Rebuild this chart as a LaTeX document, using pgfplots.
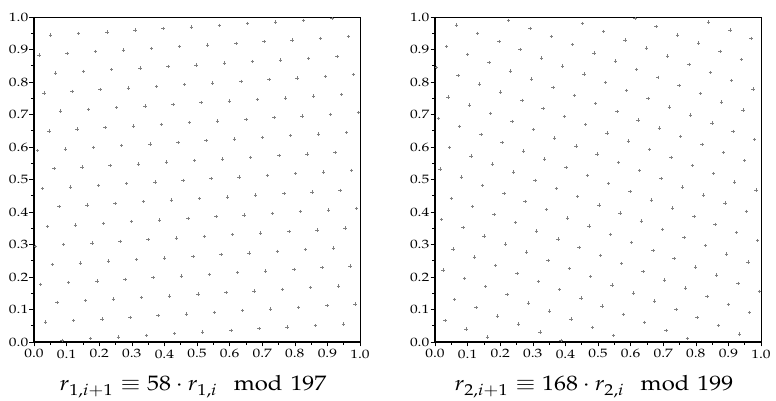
\documentclass[border=0pt]{standalone}
\usepackage{amsmath}
\usepackage{mathpazo}
\usepackage{graphicx}
\usepackage{pgfplots}
\usepackage{pgfplotstable}
\pgfplotsset{compat=1.18}
% k and 58k mod 197
\pgfplotstableread[row sep=\\]{
k y\\
1 58\\ 2 116\\ 3 174\\ 4 35\\ 5 93\\ 6 151\\ 7 12\\ 8 70\\ 9 128\\ 10 186\\ 11 47\\ 12 105\\ 13 163\\ 14 24\\ 15 82\\ 16 140\\
17 1\\ 18 59\\ 19 117\\ 20 175\\ 21 36\\ 22 94\\ 23 152\\ 24 13\\ 25 71\\ 26 129\\ 27 187\\ 28 48\\ 29 106\\ 30 164\\ 31 25\\ 32 83\\ 33 141\\
34 2\\ 35 60\\ 36 118\\ 37 176\\ 38 37\\ 39 95\\ 40 153\\ 41 14\\ 42 72\\ 43 130\\ 44 188\\ 45 49\\ 46 107\\ 47 165\\ 48 26\\ 49 84\\ 50 142\\
51 3\\ 52 61\\ 53 119\\ 54 177\\ 55 38\\ 56 96\\ 57 154\\ 58 15\\ 59 73\\ 60 131\\ 61 189\\ 62 50\\ 63 108\\ 64 166\\ 65 27\\ 66 85\\ 67 143\\
68 4\\ 69 62\\ 70 120\\ 71 178\\ 72 39\\ 73 97\\ 74 155\\ 75 16\\ 76 74\\ 77 132\\ 78 190\\ 79 51\\ 80 109\\ 81 167\\ 82 28\\ 83 86\\ 84 144\\
85 5\\ 86 63\\ 87 121\\ 88 179\\ 89 40\\ 90 98\\ 91 156\\ 92 17\\ 93 75\\ 94 133\\ 95 191\\ 96 52\\ 97 110\\ 98 168\\ 99 29\\ 100 87\\ 101 145\\
102 6\\ 103 64\\ 104 122\\ 105 180\\ 106 41\\ 107 99\\ 108 157\\ 109 18\\ 110 76\\ 111 134\\ 112 192\\ 113 53\\ 114 111\\ 115 169\\ 116 30\\ 117 88\\ 118 146\\
119 7\\ 120 65\\ 121 123\\ 122 181\\ 123 42\\ 124 100\\ 125 158\\ 126 19\\ 127 77\\ 128 135\\ 129 193\\ 130 54\\ 131 112\\ 132 170\\ 133 31\\ 134 89\\ 135 147\\
136 8\\ 137 66\\ 138 124\\ 139 182\\ 140 43\\ 141 101\\ 142 159\\ 143 20\\ 144 78\\ 145 136\\ 146 194\\ 147 55\\ 148 113\\ 149 171\\ 150 32\\ 151 90\\ 152 148\\
153 9\\ 154 67\\ 155 125\\ 156 183\\ 157 44\\ 158 102\\ 159 160\\ 160 21\\ 161 79\\ 162 137\\ 163 195\\ 164 56\\ 165 114\\ 166 172\\ 167 33\\ 168 91\\ 169 149\\
170 10\\ 171 68\\ 172 126\\ 173 184\\ 174 45\\ 175 103\\ 176 161\\ 177 22\\ 178 80\\ 179 138\\ 180 196\\ 181 57\\ 182 115\\ 183 173\\ 184 34\\ 185 92\\ 186 150\\
187 11\\ 188 69\\ 189 127\\ 190 185\\ 191 46\\ 192 104\\ 193 162\\ 194 23\\ 195 81\\ 196 139\\
}\dataA
% k and 168k mod 199
\pgfplotstableread[row sep=\\]{
k y\\
1 168\\ 2 137\\ 3 106\\ 4 75\\ 5 44\\ 6 13\\ 7 181\\ 8 150\\ 9 119\\ 10 88\\ 11 57\\ 12 26\\ 13 194\\ 14 163\\ 15 132\\ 16 101\\ 17 70\\ 18 39\\ 19 8\\ 20 176\\
21 145\\ 22 114\\ 23 83\\ 24 52\\ 25 21\\ 26 189\\ 27 158\\ 28 127\\ 29 96\\ 30 65\\ 31 34\\ 32 3\\ 33 171\\ 34 140\\ 35 109\\ 36 78\\ 37 47\\ 38 16\\ 39 184\\ 40 153\\
41 122\\ 42 91\\ 43 60\\ 44 29\\ 45 197\\ 46 166\\ 47 135\\ 48 104\\ 49 73\\ 50 42\\ 51 11\\ 52 179\\ 53 148\\ 54 117\\ 55 86\\ 56 55\\ 57 24\\ 58 192\\ 59 161\\ 60 130\\
61 99\\ 62 68\\ 63 37\\ 64 6\\ 65 174\\ 66 143\\ 67 112\\ 68 81\\ 69 50\\ 70 19\\ 71 187\\ 72 156\\ 73 125\\ 74 94\\ 75 63\\ 76 32\\ 77 1\\ 78 169\\ 79 138\\ 80 107\\
81 76\\ 82 45\\ 83 14\\ 84 182\\ 85 151\\ 86 120\\ 87 89\\ 88 58\\ 89 27\\ 90 195\\ 91 164\\ 92 133\\ 93 102\\ 94 71\\ 95 40\\ 96 9\\ 97 177\\ 98 146\\ 99 115\\ 100 84\\
101 53\\ 102 22\\ 103 190\\ 104 159\\ 105 128\\ 106 97\\ 107 66\\ 108 35\\ 109 4\\ 110 172\\ 111 141\\ 112 110\\ 113 79\\ 114 48\\ 115 17\\ 116 185\\ 117 154\\ 118 123\\ 119 92\\ 120 61\\
121 30\\ 122 198\\ 123 167\\ 124 136\\ 125 105\\ 126 74\\ 127 43\\ 128 12\\ 129 180\\ 130 149\\ 131 118\\ 132 87\\ 133 56\\ 134 25\\ 135 193\\ 136 162\\ 137 131\\ 138 100\\ 139 69\\ 140 38\\
141 7\\ 142 175\\ 143 144\\ 144 113\\ 145 82\\ 146 51\\ 147 20\\ 148 188\\ 149 157\\ 150 126\\ 151 95\\ 152 64\\ 153 33\\ 154 2\\ 155 170\\ 156 139\\ 157 108\\ 158 77\\ 159 46\\ 160 15\\
161 183\\ 162 152\\ 163 121\\ 164 90\\ 165 59\\ 166 28\\ 167 196\\ 168 165\\ 169 134\\ 170 103\\ 171 72\\ 172 41\\ 173 10\\ 174 178\\ 175 147\\ 176 116\\ 177 85\\ 178 54\\ 179 23\\ 180 191\\
181 160\\ 182 129\\ 183 98\\ 184 67\\ 185 36\\ 186 5\\ 187 173\\ 188 142\\ 189 111\\ 190 80\\ 191 49\\ 192 18\\ 193 186\\ 194 155\\ 195 124\\ 196 93\\ 197 62\\ 198 31\\
}\dataB
\pgfplotsset{
  lcg/.style={
    scale only axis, width=326bp, height=325bp,
    xmin=0, xmax=1, ymin=0, ymax=1,
    xtick={0,0.1,...,1.0}, ytick={0,0.1,...,1.0},
    minor x tick num=1, minor y tick num=1,
    xtick pos=left, ytick pos=left,
    tick align=outside,
    major tick length=4.5bp, minor tick length=3bp,
    every tick/.style={black, line width=0.6pt},
    axis line style={line width=0.7pt},
    xticklabel={\scalebox{1.55}[1.22]{$\pgfmathprintnumber[fixed,fixed zerofill,precision=1]{\tick}$}},
    yticklabel={\scalebox{1.55}[1.22]{$\pgfmathprintnumber[fixed,fixed zerofill,precision=1]{\tick}$}},
    xticklabel style={inner sep=1bp, yshift=-2bp},
    yticklabel style={inner sep=1bp, xshift=0bp},
    xlabel style={at={(axis description cs:0.5,0)}, anchor=base, yshift=-49bp, xshift=-4bp},
    clip=false,
  },
  lcgmark/.style={only marks, mark=+, mark size=1.7bp, color=black!50, mark options={line width=0.6pt}},
}
\begin{document}
\begin{tikzpicture}
\begin{axis}[lcg, xlabel={\scalebox{2.4}[2.1]{$r_{1,i+1}\equiv 58\cdot r_{1,i}\mod{197}$}}]
  \addplot[lcgmark] table[x expr=\thisrow{k}/197, y expr=\thisrow{y}/197] {\dataA};
  \draw[line width=1.3pt] (rel axis cs:0,1) -- (rel axis cs:0,0) -- (rel axis cs:1,0);
  \coordinate (bl) at (rel axis cs:0,0);
\end{axis}
\begin{axis}[lcg, at={(401bp,0)}, xlabel={\scalebox{2.4}[2.1]{$r_{2,i+1}\equiv 168\cdot r_{2,i}\mod{199}$}}]
  \addplot[lcgmark] table[x expr=\thisrow{k}/199, y expr=\thisrow{y}/199] {\dataB};
  \draw[line width=1.3pt] (rel axis cs:0,1) -- (rel axis cs:0,0) -- (rel axis cs:1,0);
  \coordinate (tr) at (rel axis cs:1,1);
\end{axis}
\path ([xshift=-34bp,yshift=-55bp]bl) rectangle ([xshift=15bp,yshift=17bp]tr);
\end{tikzpicture}
\end{document}
